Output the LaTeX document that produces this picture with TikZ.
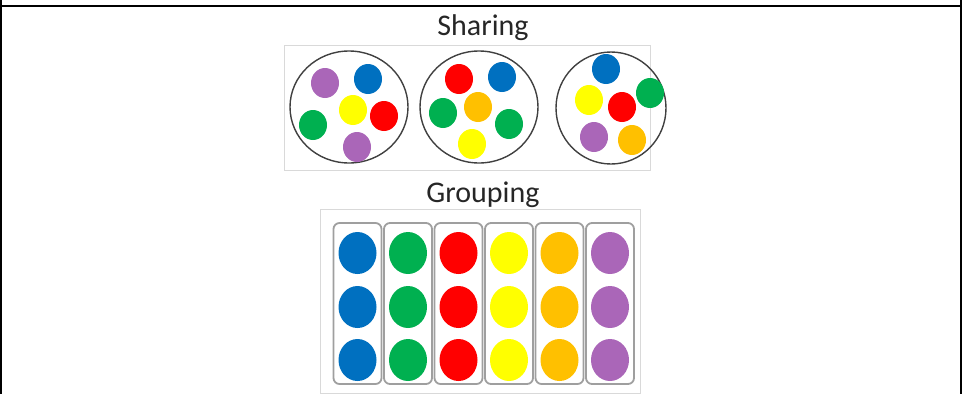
\documentclass[tikz,border=0pt]{standalone}
\usepackage{fontspec}
\setmainfont{Carlito}
\usetikzlibrary{positioning}

\definecolor{cblue}{RGB}{0,112,192}
\definecolor{cgreen}{RGB}{0,176,80}
\definecolor{cred}{RGB}{255,0,0}
\definecolor{cyellow}{RGB}{255,255,0}
\definecolor{corange}{RGB}{255,192,0}
\definecolor{cpurple}{RGB}{170,102,184}

% one coloured counter, centre in pixels
\newcommand\chip[3]{\fill[#1] (#2,#3) ellipse [x radius=14pt, y radius=15pt];}

\begin{document}
\begin{tikzpicture}[x=1pt, y=-1pt,
    rule/.style={line width=2pt, black},
    panel/.style={draw=gray!30, line width=0.8pt},
    ring/.style={draw=black!75, line width=1.4pt},
    tube/.style={draw=gray!75, line width=1.8pt, rounded corners=6pt},
    title/.style={font=\fontsize{30}{34}\selectfont, text=black!85, anchor=base, inner sep=0pt},
]
    \useasboundingbox (0,0) rectangle (966,394);

    %==================== table cell ====================
    \draw[rule] (1,0) -- (1,394);
    \draw[rule] (961,0) -- (961,394);
    \draw[rule] (0,6) -- (962,6);

    %==================== SHARING ====================
    \node[title] (sharing) at (483,35) {Sharing};
    \draw[panel] (284,45) rectangle (650,170);

    \draw[ring] (349,107) ellipse [x radius=59pt, y radius=56pt];
    \draw[ring] (479,107) ellipse [x radius=59pt, y radius=56pt];
    \draw[ring] (611,108) ellipse [x radius=55pt, y radius=56pt];

    % first plate
    \chip{cpurple}{325}{83}
    \chip{cblue}{368}{79}
    \chip{cyellow}{353}{110}
    \chip{cred}{384}{116}
    \chip{cgreen}{313}{125}
    \chip{cpurple}{357}{147}

    % second plate
    \chip{cred}{459}{79}
    \chip{cblue}{502}{77}
    \chip{corange}{478}{107}
    \chip{cgreen}{443}{113}
    \chip{cgreen}{509}{124}
    \chip{cyellow}{472}{144}

    % third plate
    \chip{cblue}{606}{69}
    \chip{cgreen}{650}{93}
    \chip{cyellow}{589}{100}
    \chip{cred}{622}{107}
    \chip{cpurple}{594}{137}
    \chip{corange}{632}{140}

    %==================== GROUPING ====================
    \node[title] (grouping) at (483,202) {Grouping};
    \draw[panel] (320,209) rectangle (640,393);

    \foreach \c [count=\i] in {cblue,cgreen,cred,cyellow,corange,cpurple} {
        \pgfmathsetmacro\cx{357.5+50.5*(\i-1)}
        \draw[tube] (\cx-24,223) rectangle (\cx+24,384);
        \foreach \cy in {253,307,360}
            \fill[\c] (\cx,\cy) ellipse [x radius=19pt, y radius=21pt];
    }

\end{tikzpicture}
\end{document}
